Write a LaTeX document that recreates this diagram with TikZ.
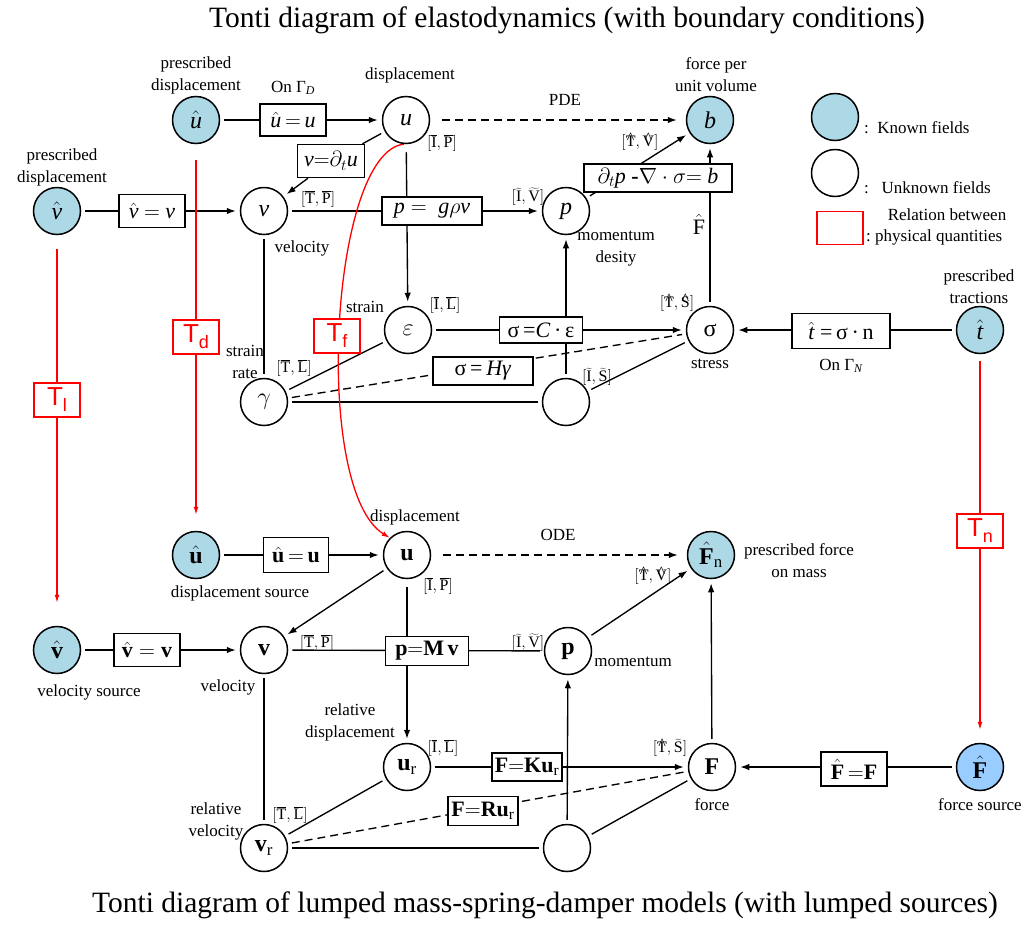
\RequirePackage{fix-cm}
\documentclass[tikz,border=0pt]{standalone}
\usepackage{fontspec}
\setmainfont{Liberation Serif}
\newfontfamily\arialfont{Liberation Sans}
\usetikzlibrary{arrows.meta,backgrounds}
\definecolor{knownblue}{RGB}{173,216,230}
\definecolor{knownF}{RGB}{153,204,255}
\newcommand{\tsub}[1]{{\fontsize{18}{18}\selectfont\raisebox{-6pt}{#1}}}
\newcommand{\ix}[2]{$[\mathrm{#1},\mathrm{#2}]$}
\begin{document}
\begin{tikzpicture}[x=1pt,y=-1pt,
  field/.style={circle,draw,line width=1.5pt,minimum size=47pt,inner sep=0pt,fill=white,font=\fontsize{24}{24}\selectfont},
  known/.style={field,fill=knownblue},
  rel/.style={draw,line width=1.4pt,fill=white,inner sep=2pt,font=\fontsize{22}{22}\selectfont},
  lab/.style={font=\fontsize{17}{22}\selectfont,align=center,inner sep=0pt},
  idx/.style={font=\fontsize{16}{16}\selectfont,inner sep=0pt},
  title/.style={font=\fontsize{29.5}{32}\selectfont,inner sep=0pt},
  conn/.style={line width=1.35pt,shorten <=4pt,shorten >=4pt},
  arr/.style={conn,-{Latex[length=9pt,width=6.5pt]}},
  dsh/.style={conn,dash pattern=on 8pt off 5pt},
  tbox/.style={draw=red,line width=1.4pt,fill=white,minimum width=46pt,minimum height=34pt,inner sep=0pt,text=red,font=\arialfont\fontsize{26}{26}\selectfont},
  tline/.style={red,line width=1.3pt,-{Latex[length=8pt,width=5pt]}},
]
\useasboundingbox (0,0) rectangle (1028,924);

% titles
\node[title] (t1) at (567,20) {Tonti diagram of elastodynamics (with boundary conditions)};
\node[title] (t2) at (545,905) {Tonti diagram of lumped mass-spring-damper models (with lumped sources)};

% ---- elastodynamics: fields
\node[known] (uh) at (196,120) {$\hat{\mathit{u}}$};
\node[field] (u) at (406,120) {$\mathit{u}$};
\node[known] (b) at (710,120) {$\mathit{b}$};
\node[known] (vh) at (57,211) {$\hat{\mathit{v}}$};
\node[field] (v) at (264,211) {$\mathit{v}$};
\node[field] (p) at (566,211) {$\mathit{p}$};
\node[field] (eps) at (408,330) {$\varepsilon$};
\node[field] (sig) at (710,330) {σ};
\node[known] (th) at (980,330) {$\hat{\mathit{t}}$};
\node[field] (gam) at (264,402) {$\gamma$};
\node[field] (e1) at (566,402) {};

% ---- elastodynamics: relations
\node[rel,minimum width=66pt,minimum height=32pt] (ru) at (293,120) {$\hat{\mathit{u}}\,{=}\,\mathit{u}$};
\node[rel,minimum width=66pt,minimum height=33pt] (rv) at (152,211) {$\hat{\mathit{v}}\ {=}\ \mathit{v}$};
\node[rel,minimum width=67pt,minimum height=33pt] (rdt) at (331,161) {$\mathit{v}{=}\partial_t\mathit{u}$};
\node[rel,minimum width=100pt,minimum height=28pt] (rp) at (432,211) {$\mathit{p}=\ \mathit{g}\rho\mathit{v}$};
\node[rel,minimum width=148pt,minimum height=28pt] (rm) at (658,178) {$\partial_t\mathit{p}$\ \textbf{-}$\nabla\cdot\sigma{=}\ \mathit{b}$};
\node[rel,minimum width=83pt,minimum height=26pt] (rc) at (541,330) {σ\,=\textit{C}\,·\,ε};
\node[rel,minimum width=100pt,minimum height=28pt] (rh) at (483,371) {σ\,=\,\textit{Hγ}};
\node[rel,minimum width=98pt,minimum height=35pt] (rt) at (841,331) {$\hat{\mathit{t}}$\ =\,σ\,·\,n};

% ---- elastodynamics: labels
\node[lab] (l1) at (196,75) {prescribed\\displacement};
\node[lab] (l2) at (293,88) {On Γ$_{\mathit{D}}$};
\node[lab] (l3) at (410,75) {displacement};
\node[lab] (l4) at (565,100) {PDE};
\node[lab] (l5) at (716,75) {force per\\unit volume};
\node[lab] (l6) at (62,167) {prescribed\\displacement};
\node[lab] (l7) at (302,248) {velocity};
\node[lab] (l8) at (616,249) {momentum\\desity};
\node[font=\fontsize{22}{22}\selectfont,inner sep=0pt] (l9) at (699,224) {$\hat{\mathrm{F}}$};
\node[lab] (l10) at (365,307) {strain};
\node[lab] (l11) at (245,362) {strain\\rate};
\node[lab] (l12) at (710,364) {stress};
\node[lab] (l13) at (841,366) {On Γ$_{\mathit{N}}$};
\node[lab] (l14) at (979,287) {prescribed\\tractions};
\node[idx] (i1) at (442,143) {\ix{\overline{I}}{\overline{P}}};
\node[idx] (i2) at (318,199) {\ix{\overline{T}}{\overline{P}}};
\node[idx] (i3) at (528,197) {\ix{\widetilde{I}}{\widetilde{V}}};
\node[idx] (i4) at (640,142) {\ix{\hat{T}}{\hat{V}}};
\node[idx] (i5) at (445,305) {\ix{\overline{I}}{\overline{L}}};
\node[idx] (i6) at (294,368) {\ix{\overline{T}}{\overline{L}}};
\node[idx] (i7) at (597,377) {\ix{\widetilde{I}}{\widetilde{S}}};
\node[idx] (i8) at (677,303) {\ix{\hat{T}}{\hat{S}}};

% ---- lumped model: fields
\node[known] (UH) at (196,555) {$\hat{\mathbf{u}}$};
\node[field] (U) at (407,555) {$\mathbf{u}$};
\node[known] (Fn) at (711,555) {$\hat{\mathbf{F}}_{\mathrm{n}}$};
\node[known] (VH) at (57,650) {$\hat{\mathbf{v}}$};
\node[field] (V) at (264,650) {$\mathbf{v}$};
\node[field] (P) at (568,651) {$\mathbf{p}$};
\node[field] (Ur) at (407,767) {$\mathbf{u}_{\mathrm{r}}$};
\node[field] (F) at (712,767) {$\mathbf{F}$};
\node[field] (E2) at (567,848) {};
\node[field] (Vr) at (264,848) {$\mathbf{v}_{\mathrm{r}}$};
\node[known,fill=knownF] (FH) at (980,767) {$\hat{\mathbf{F}}$};

% ---- lumped model: relations
\node[rel,minimum width=65pt,minimum height=35pt] (RU) at (296,555) {$\hat{\mathbf{u}}\,{=}\,\mathbf{u}$};
\node[rel,minimum width=66pt,minimum height=33pt] (RV) at (147,650) {$\hat{\mathbf{v}}=\mathbf{v}$};
\node[rel,minimum width=83pt,minimum height=29pt] (RM) at (427,651) {$\mathbf{p}{=}\mathbf{M}\,\mathbf{v}$};
\node[rel,minimum width=70pt,minimum height=28pt] (RK) at (527,767) {$\mathbf{F}{=}\mathbf{Ku}_{\mathrm{r}}$};
\node[rel,minimum width=70pt,minimum height=29pt] (RR) at (483,811) {$\mathbf{F}{=}\mathbf{Ru}_{\mathrm{r}}$};
\node[rel,minimum width=66pt,minimum height=34pt] (RF) at (854,769) {$\hat{\mathbf{F}}\,{=}\mathbf{F}$};

% ---- lumped model: labels
\node[lab] (L1) at (415,517) {displacement};
\node[lab] (L2) at (558,535) {ODE};
\node[lab] (L3) at (240,593) {displacement source};
\node[lab] (L4) at (799,561) {prescribed force\\on mass};
\node[lab] (L5) at (89,692) {velocity source};
\node[lab] (L6) at (228,687) {velocity};
\node[lab] (L7) at (633,662) {momentum};
\node[lab] (L8) at (350,722) {relative\\displacement};
\node[lab] (L9) at (216,821) {relative\\velocity};
\node[lab] (L10) at (712,805) {force};
\node[lab] (L11) at (980,805) {force source};
\node[idx] (I1) at (438,586) {\ix{\overline{I}}{\overline{P}}};
\node[idx] (I2) at (317,643) {\ix{\overline{T}}{\overline{P}}};
\node[idx] (I3) at (528,643) {\ix{\widetilde{I}}{\widetilde{V}}};
\node[idx] (I4) at (653,576) {\ix{\hat{T}}{\hat{V}}};
\node[idx] (I5) at (443,748) {\ix{\overline{I}}{\overline{L}}};
\node[idx] (I6) at (290,815) {\ix{\overline{T}}{\overline{L}}};
\node[idx] (I7) at (670,748) {\ix{\hat{T}}{\widetilde{S}}};

% ---- transformations between the two diagrams
\node[tbox] (Tl) at (57,400) {T\tsub{l}};
\node[tbox] (Td) at (196,337) {T\tsub{d}};
\node[tbox] (Tf) at (337,336) {T\tsub{f}};
\node[tbox] (Tn) at (980,531) {T\tsub{n}};

% ---- legend
\node[known] (lk) at (835,117) {};
\node[field] (lu) at (835,173) {};
\node[draw=red,line width=1.4pt,minimum width=46pt,minimum height=33pt,inner sep=0pt] (lr) at (840,228) {};
\node[lab,anchor=west] (lkt) at (864,128) {:\ \ Known fields};
\node[lab,anchor=west] (lut) at (864,188) {:\ \ \ Unknown fields};
\node[lab] (lrt1) at (947,215) {Relation between};
\node[lab,anchor=west] (lrt2) at (866,237) {:\ physical quantities};

\begin{scope}[on background layer]
  % elastodynamics connectors
  \draw[arr] (uh) -- (u);
  \draw[dsh,-{Latex[length=9pt,width=6.5pt]},shorten <=12pt,shorten >=9pt] (u) -- (b);
  \draw[arr] (vh) -- (v);
  \draw[conn,shorten >=0pt] (u) -- (rdt);
  \draw[arr,shorten <=0pt] (rdt) -- (v);
  \draw[arr] (v) -- (p);
  \draw[arr,shorten <=8pt] (u) -- (eps);
  \draw[arr] (p) -- (b);
  \draw[arr] (sig) -- (b);
  \draw[arr] (eps) -- (sig);
  \draw[arr] (e1) -- (p);
  \draw[arr] (th) -- (sig);
  \draw[conn] (gam) -- (eps);
  \draw[dsh] (gam) -- (sig);
  \draw[conn] (gam) -- (e1);
  \draw[conn] (e1) -- (sig);
  \draw[conn] (v) -- (gam);
  % lumped model connectors
  \draw[arr] (UH) -- (U);
  \draw[dsh,-{Latex[length=9pt,width=6.5pt]},shorten <=12pt,shorten >=9pt] (U) -- (Fn);
  \draw[arr] (VH) -- (V);
  \draw[arr] (U) -- (V);
  \draw[conn] (V) -- (P);
  \draw[arr,shorten <=8pt] (U) -- (Ur);
  \draw[arr] (P) -- (Fn);
  \draw[arr] (E2) -- (P);
  \draw[arr] (F) -- (Fn);
  \draw[arr] (Ur) -- (F);
  \draw[conn] (Vr) -- (Ur);
  \draw[dsh] (Vr) -- (F);
  \draw[conn] (Vr) -- (E2);
  \draw[conn] (E2) -- (F);
  \draw[conn] (V) -- (Vr);
  \draw[arr] (FH) -- (F);
  % transformations
  \draw[tline,shorten <=14pt,shorten >=23pt] (vh) -- (VH);
  \draw[tline,shorten <=16pt,shorten >=16pt] (uh) -- (UH);
  \draw[tline] (u.265) .. controls (330,152) and (312,490) .. (U.135);
  \draw[tline,shorten <=7pt,shorten >=13pt] (th) -- (FH);
\end{scope}
\end{tikzpicture}
\end{document}
